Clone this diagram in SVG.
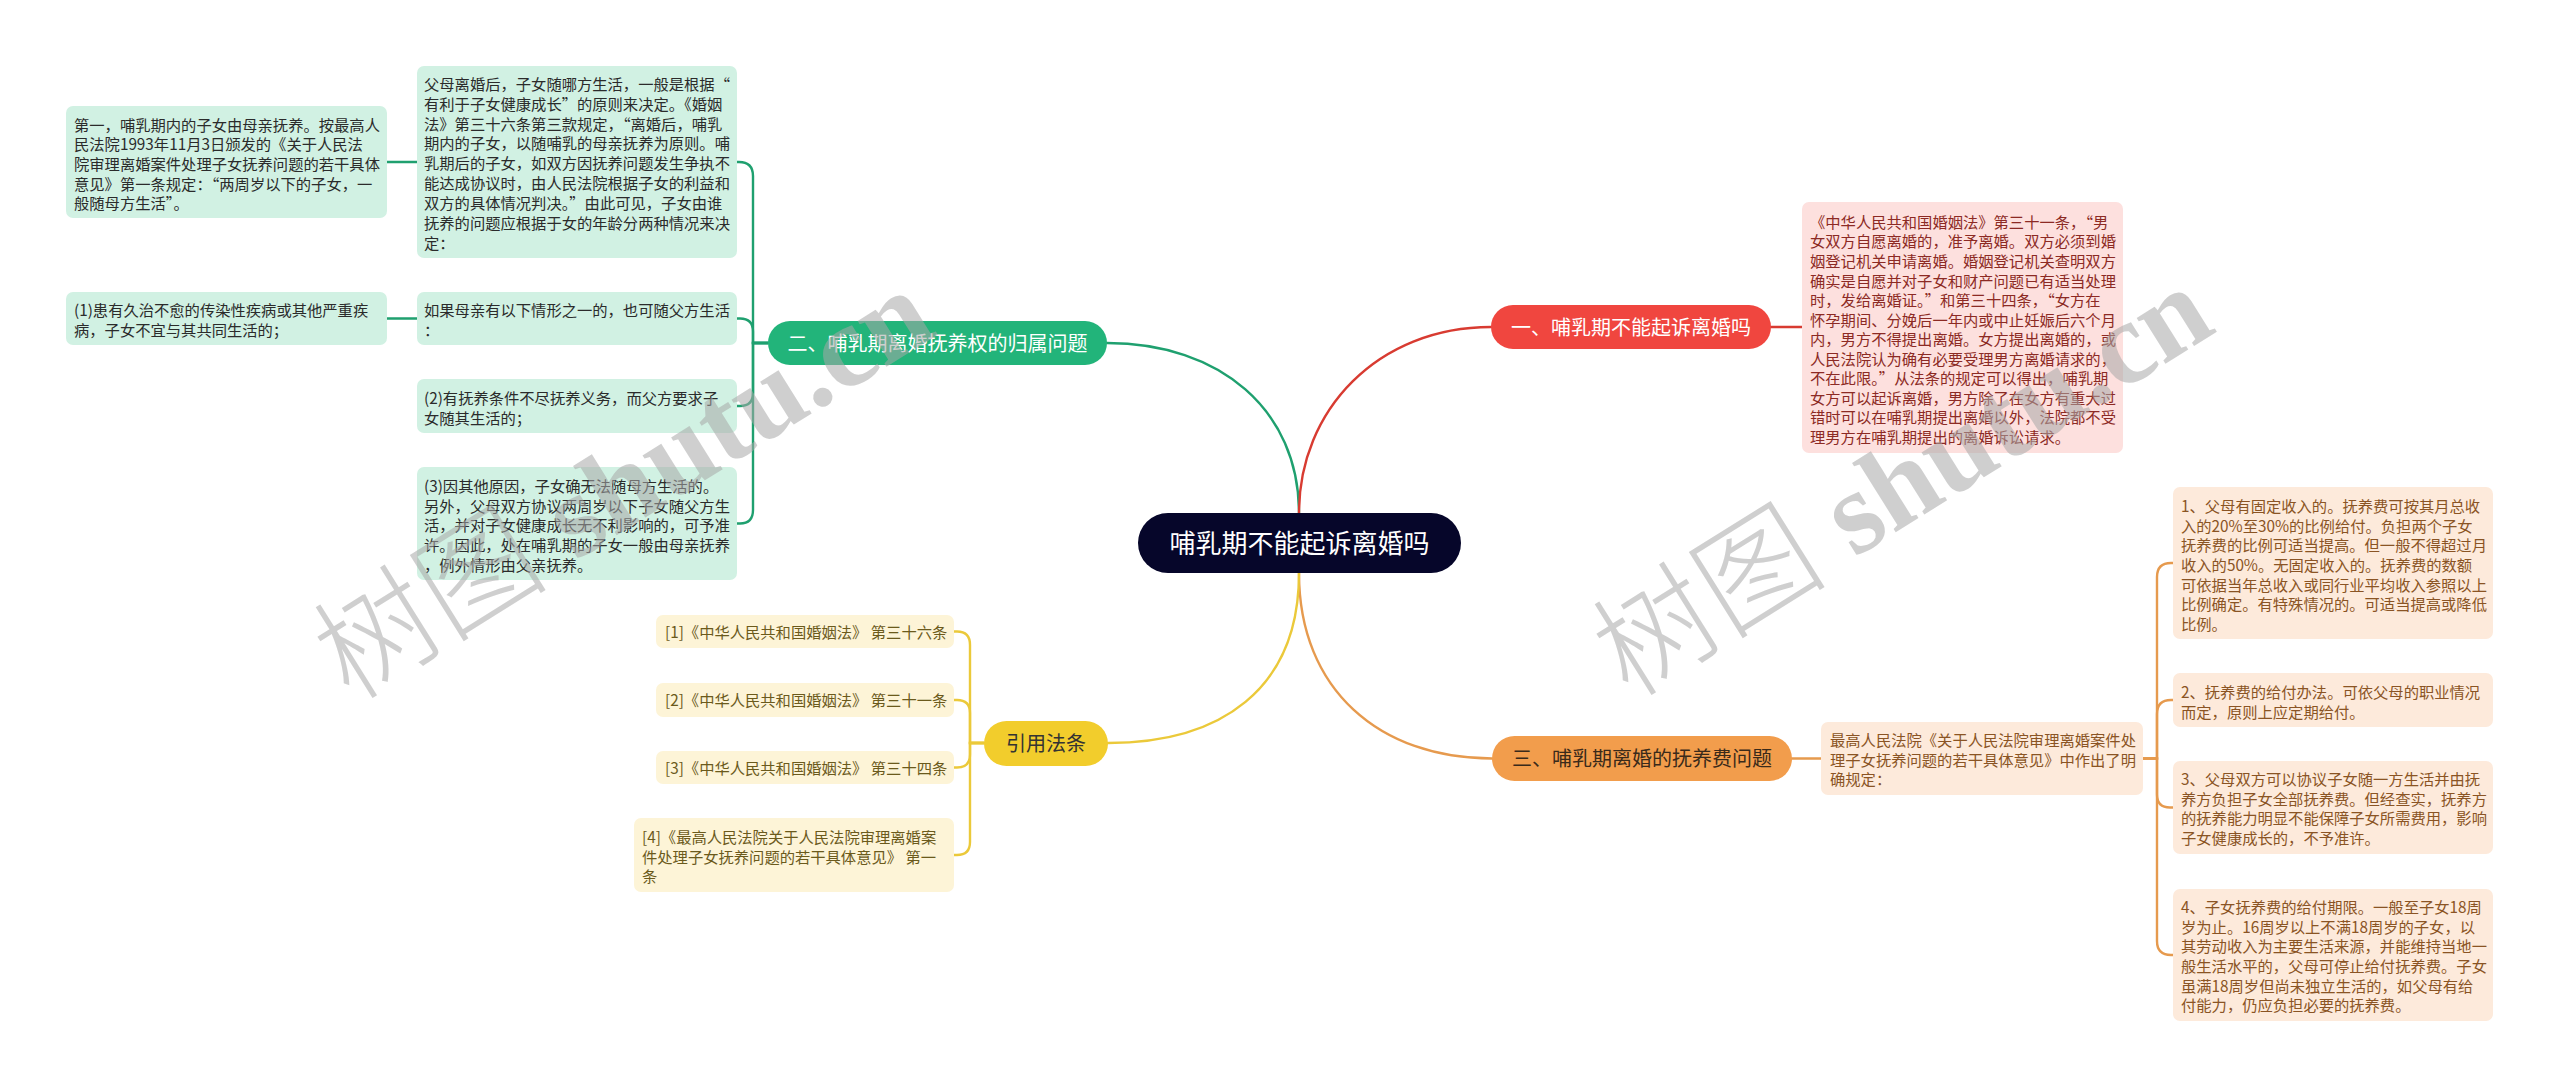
<svg xmlns="http://www.w3.org/2000/svg" width="2560" height="1087" viewBox="0 0 2560 1087">
<style>
text{font-family:"Noto Sans CJK SC","Noto Sans",sans-serif;}
.t{font-size:15.3px;}
.br{font-size:20px;text-anchor:middle;}
.gb{fill:#d1f1e3;} .gt{fill:#2b2b2b;}
.rb{fill:#fde0de;} .rt{fill:#8c2a24;}
.ob{fill:#fdeadb;} .ot{fill:#8a5424;}
.yb{fill:#fdf4d7;} .yt{fill:#6b5a1c;}
.c{fill:none;stroke-width:2.4;stroke-linecap:round;}
.cg{stroke:#1fa06f;} .cr{stroke:#d83b31;} .co{stroke:#e69a4e;} .cy{stroke:#ebc93a;}
.wm{font-family:"Liberation Serif","Noto Sans CJK SC",serif;font-size:118px;fill:#a8a8a8;fill-opacity:0.55;}
.wmc{font-family:"Noto Sans CJK SC",serif;font-weight:300;}
.wml{font-weight:bold;}
</style>
<rect width="2560" height="1087" fill="#ffffff"/>

<g id="connectors">
  <path class="c cg" d="M1299,513 C1299,410 1220,343 1107,343"/>
  <path class="c cr" d="M1299,513 C1299,410 1378,327 1491,327"/>
  <path class="c co" d="M1299,573 C1299,690 1380,758.5 1492,758.5"/>
  <path class="c cy" d="M1299,573 C1299,690 1220,743 1108,743"/>
  <path class="c cg" d="M768,343 H753 V176 Q753,162 739,162 H737"/>
  <path class="c cg" d="M768,343 H753 V331.5 Q753,318.5 740,318.5 H737"/>
  <path class="c cg" d="M768,343 H753 V393 Q753,406 740,406 H737"/>
  <path class="c cg" d="M768,343 H753 V510 Q753,523.5 740,523.5 H737"/>
  <path class="c cg" d="M417,162 H387"/>
  <path class="c cg" d="M417,318.5 H387"/>
  <path class="c cr" d="M1771,327 H1802"/>
  <path class="c co" d="M1792,758.5 H1821"/>
  <path class="c co" d="M2143,758.5 H2157 V577 Q2157,563 2171,563 H2173"/>
  <path class="c co" d="M2143,758.5 H2157 V714 Q2157,700 2171,700 H2173"/>
  <path class="c co" d="M2143,758.5 H2157 V794.5 Q2157,807.5 2170,807.5 H2173"/>
  <path class="c co" d="M2143,758.5 H2157 V941 Q2157,955 2171,955 H2173"/>
  <path class="c cy" d="M984,743 H970 V645 Q970,631.5 957,631.5 H954"/>
  <path class="c cy" d="M984,743 H970 V713 Q970,700 957,700 H954"/>
  <path class="c cy" d="M984,743 H970 V754.5 Q970,767.5 957,767.5 H954"/>
  <path class="c cy" d="M984,743 H970 V842 Q970,855 957,855 H954"/>
</g>

<g id="center">
  <rect x="1138" y="513" width="323" height="60" rx="30" fill="#06062a"/>
  <text x="1299.5" y="553" font-size="26" text-anchor="middle" fill="#ffffff">哺乳期不能起诉离婚吗</text>
</g>

<g id="branch-1">
  <rect x="1491" y="305" width="280" height="44" rx="22" fill="#f0463f"/>
  <text class="br" x="1631" y="334.6" fill="#ffffff">一、哺乳期不能起诉离婚吗</text>
</g>
<g id="node-1-1">
  <rect class="rb" x="1802" y="202" width="321" height="251" rx="7"/>
  <text class="t rt">
    <tspan x="1810" y="227.8">《中华人民共和国婚姻法》第三十一条，“男</tspan>
    <tspan x="1810" y="247.4">女双方自愿离婚的，准予离婚。双方必须到婚</tspan>
    <tspan x="1810" y="266.9">姻登记机关申请离婚。婚姻登记机关查明双方</tspan>
    <tspan x="1810" y="286.5">确实是自愿并对子女和财产问题已有适当处理</tspan>
    <tspan x="1810" y="306">时，发给离婚证。”和第三十四条，“女方在</tspan>
    <tspan x="1810" y="325.6">怀孕期间、分娩后一年内或中止妊娠后六个月</tspan>
    <tspan x="1810" y="345.1">内，男方不得提出离婚。女方提出离婚的，或</tspan>
    <tspan x="1810" y="364.7">人民法院认为确有必要受理男方离婚请求的，</tspan>
    <tspan x="1810" y="384.2">不在此限。”从法条的规定可以得出，哺乳期</tspan>
    <tspan x="1810" y="403.8">女方可以起诉离婚，男方除了在女方有重大过</tspan>
    <tspan x="1810" y="423.3">错时可以在哺乳期提出离婚以外，法院都不受</tspan>
    <tspan x="1810" y="442.9">理男方在哺乳期提出的离婚诉讼请求。</tspan>
  </text>
</g>

<g id="branch-2">
  <rect x="768" y="321" width="339" height="44" rx="22" fill="#22b47a"/>
  <text class="br" x="937.5" y="350.6" fill="#ffffff">二、哺乳期离婚抚养权的归属问题</text>
</g>
<g id="node-2-1">
  <rect class="gb" x="417" y="66" width="320" height="192" rx="7"/>
  <text class="t gt">
    <tspan x="424" y="89.8">父母离婚后，子女随哪方生活，一般是根据“</tspan>
    <tspan x="424" y="109.7">有利于子女健康成长”的原则来决定。《婚姻</tspan>
    <tspan x="424" y="129.6">法》第三十六条第三款规定，“离婚后，哺乳</tspan>
    <tspan x="424" y="149.4">期内的子女，以随哺乳的母亲抚养为原则。哺</tspan>
    <tspan x="424" y="169.3">乳期后的子女，如双方因抚养问题发生争执不</tspan>
    <tspan x="424" y="189.2">能达成协议时，由人民法院根据子女的利益和</tspan>
    <tspan x="424" y="209.1">双方的具体情况判决。”由此可见，子女由谁</tspan>
    <tspan x="424" y="228.9">抚养的问题应根据于女的年龄分两种情况来决</tspan>
    <tspan x="424" y="248.8">定：</tspan>
  </text>
</g>
<g id="node-2-1-1">
  <rect class="gb" x="66" y="106" width="321" height="112" rx="7"/>
  <text class="t gt">
    <tspan x="74" y="130.8">第一，哺乳期内的子女由母亲抚养。按最高人</tspan>
    <tspan x="74" y="150.4">民法院1993年11月3日颁发的《关于人民法</tspan>
    <tspan x="74" y="170">院审理离婚案件处理子女抚养问题的若干具体</tspan>
    <tspan x="74" y="189.6">意见》第一条规定：“两周岁以下的子女，一</tspan>
    <tspan x="74" y="209.2">般随母方生活”。</tspan>
  </text>
</g>
<g id="node-2-2">
  <rect class="gb" x="417" y="292" width="320" height="53" rx="7"/>
  <text class="t gt">
    <tspan x="424" y="315.8">如果母亲有以下情形之一的，也可随父方生活</tspan>
    <tspan x="424" y="335.5">：</tspan>
  </text>
</g>
<g id="node-2-2-1">
  <rect class="gb" x="66" y="292" width="321" height="53" rx="7"/>
  <text class="t gt">
    <tspan x="74" y="315.8">(1)患有久治不愈的传染性疾病或其他严重疾</tspan>
    <tspan x="74" y="335.5">病，子女不宜与其共同生活的；</tspan>
  </text>
</g>
<g id="node-2-3">
  <rect class="gb" x="417" y="379" width="320" height="54" rx="7"/>
  <text class="t gt">
    <tspan x="424" y="403.8">(2)有抚养条件不尽抚养义务，而父方要求子</tspan>
    <tspan x="424" y="423.5">女随其生活的；</tspan>
  </text>
</g>
<g id="node-2-4">
  <rect class="gb" x="417" y="467" width="320" height="113" rx="7"/>
  <text class="t gt">
    <tspan x="424" y="491.8">(3)因其他原因，子女确无法随母方生活的。</tspan>
    <tspan x="424" y="511.5">另外，父母双方协议两周岁以下子女随父方生</tspan>
    <tspan x="424" y="531.2">活，并对子女健康成长无不利影响的，可予准</tspan>
    <tspan x="424" y="550.9">许。因此，处在哺乳期的子女一般由母亲抚养</tspan>
    <tspan x="424" y="570.6">，例外情形由父亲抚养。</tspan>
  </text>
</g>

<g id="branch-3">
  <rect x="1492" y="736" width="300" height="45" rx="22.5" fill="#f29d4c"/>
  <text class="br" x="1642" y="766" fill="#3a2a1a">三、哺乳期离婚的抚养费问题</text>
</g>
<g id="node-3-1">
  <rect class="ob" x="1821" y="722" width="322" height="73" rx="7"/>
  <text class="t ot">
    <tspan x="1830" y="745.8">最高人民法院《关于人民法院审理离婚案件处</tspan>
    <tspan x="1830" y="765.5">理子女抚养问题的若干具体意见》中作出了明</tspan>
    <tspan x="1830" y="785.2">确规定：</tspan>
  </text>
</g>
<g id="node-3-1-1">
  <rect class="ob" x="2173" y="487" width="320" height="152" rx="7"/>
  <text class="t ot">
    <tspan x="2181" y="511.8">1、父母有固定收入的。抚养费可按其月总收</tspan>
    <tspan x="2181" y="531.5">入的20%至30%的比例给付。负担两个子女</tspan>
    <tspan x="2181" y="551.2">抚养费的比例可适当提高。但一般不得超过月</tspan>
    <tspan x="2181" y="570.9">收入的50%。无固定收入的。抚养费的数额</tspan>
    <tspan x="2181" y="590.6">可依据当年总收入或同行业平均收入参照以上</tspan>
    <tspan x="2181" y="610.3">比例确定。有特殊情况的。可适当提高或降低</tspan>
    <tspan x="2181" y="630">比例。</tspan>
  </text>
</g>
<g id="node-3-1-2">
  <rect class="ob" x="2173" y="673" width="320" height="54" rx="7"/>
  <text class="t ot">
    <tspan x="2181" y="697.8">2、抚养费的给付办法。可依父母的职业情况</tspan>
    <tspan x="2181" y="717.5">而定，原则上应定期给付。</tspan>
  </text>
</g>
<g id="node-3-1-3">
  <rect class="ob" x="2173" y="761" width="320" height="93" rx="7"/>
  <text class="t ot">
    <tspan x="2181" y="784.8">3、父母双方可以协议子女随一方生活并由抚</tspan>
    <tspan x="2181" y="804.5">养方负担子女全部抚养费。但经查实，抚养方</tspan>
    <tspan x="2181" y="824.2">的抚养能力明显不能保障子女所需费用，影响</tspan>
    <tspan x="2181" y="843.9">子女健康成长的，不予准许。</tspan>
  </text>
</g>
<g id="node-3-1-4">
  <rect class="ob" x="2173" y="889" width="320" height="132" rx="7"/>
  <text class="t ot">
    <tspan x="2181" y="912.8">4、子女抚养费的给付期限。一般至子女18周</tspan>
    <tspan x="2181" y="932.5">岁为止。16周岁以上不满18周岁的子女，以</tspan>
    <tspan x="2181" y="952.2">其劳动收入为主要生活来源，并能维持当地一</tspan>
    <tspan x="2181" y="971.9">般生活水平的，父母可停止给付抚养费。子女</tspan>
    <tspan x="2181" y="991.6">虽满18周岁但尚未独立生活的，如父母有给</tspan>
    <tspan x="2181" y="1011.3">付能力，仍应负担必要的抚养费。</tspan>
  </text>
</g>

<g id="branch-4">
  <rect x="984" y="721" width="124" height="45" rx="22.5" fill="#f2cd2c"/>
  <text class="br" x="1046" y="750.6" fill="#333333">引用法条</text>
</g>
<g id="ref-1">
  <rect class="yb" x="656" y="615" width="298" height="33" rx="7"/>
  <text class="t yt" x="665" y="637.8">[1]《中华人民共和国婚姻法》 第三十六条</text>
</g>
<g id="ref-2">
  <rect class="yb" x="656" y="683" width="298" height="34" rx="7"/>
  <text class="t yt" x="665" y="705.8">[2]《中华人民共和国婚姻法》 第三十一条</text>
</g>
<g id="ref-3">
  <rect class="yb" x="656" y="751" width="298" height="33" rx="7"/>
  <text class="t yt" x="665" y="773.8">[3]《中华人民共和国婚姻法》 第三十四条</text>
</g>
<g id="ref-4">
  <rect class="yb" x="634" y="818" width="320" height="74" rx="7"/>
  <text class="t yt">
    <tspan x="642" y="842.8">[4]《最高人民法院关于人民法院审理离婚案</tspan>
    <tspan x="642" y="862.5">件处理子女抚养问题的若干具体意见》 第一</tspan>
    <tspan x="642" y="882.2">条</tspan>
  </text>
</g>

<g id="watermarks">
  <text class="wm" transform="translate(350,702) rotate(-32)"><tspan class="wmc">树图</tspan><tspan class="wml"> shutu.cn</tspan></text>
  <text class="wm" transform="translate(1629,699) rotate(-32)"><tspan class="wmc">树图</tspan><tspan class="wml"> shutu.cn</tspan></text>
</g>
</svg>
